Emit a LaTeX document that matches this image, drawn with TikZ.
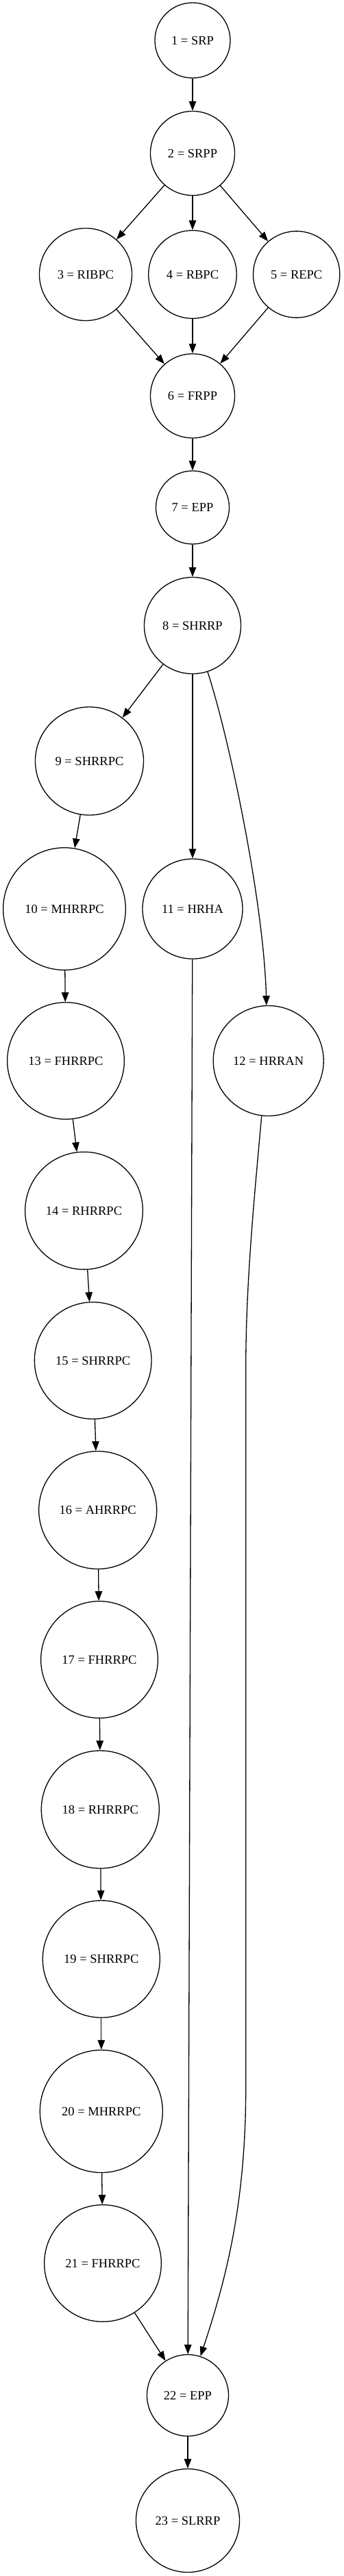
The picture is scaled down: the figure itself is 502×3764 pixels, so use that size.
\documentclass[tikz,border=0pt]{standalone}
\usepackage{fontspec}
\setmainfont{Liberation Serif}
\usetikzlibrary{arrows.meta}
\tikzset{
    phase/.style={circle,draw,line width=1.3pt,inner sep=0pt,minimum size=#1,
        font=\fontsize{18.5}{22}\selectfont},
    flow/.style={-{Triangle[length=14pt,width=10.5pt]},line width=1.3pt}
}

\begin{document}
\begin{tikzpicture}[x=1pt,y=1pt]
    \useasboundingbox (0,0) rectangle (502,-3764);

    \node[phase=110]   (n1)  at (281,-59)     {1 = SRP};
    \node[phase=123]   (n2)  at (281,-224)    {2 = SRPP};
    \node[phase=135]   (n3)  at (125,-401)    {3 = RIBPC};
    \node[phase=128.6] (n4)  at (281,-401)    {4 = RBPC};
    \node[phase=126.3] (n5)  at (432.7,-401)  {5 = REPC};
    \node[phase=123]   (n6)  at (281,-578.5)  {6 = FRPP};
    \node[phase=107]   (n7)  at (281,-741.5)  {7 = EPP};
    \node[phase=141]   (n8)  at (281,-914)    {8 = SHRRP};
    \node[phase=158]   (n9)  at (130.5,-1112) {9 = SHRRPC};
    \node[phase=178.7] (n10) at (94,-1328)    {10 = MHRRPC};
    \node[phase=146]   (n11) at (281,-1328)   {11 = HRHA};
    \node[phase=161]   (n12) at (391.7,-1550) {12 = HRRAN};
    \node[phase=170.7] (n13) at (96,-1550)    {13 = FHRRPC};
    \node[phase=171.7] (n14) at (122.5,-1769) {14 = RHRRPC};
    \node[phase=170.7] (n15) at (135.7,-1988) {15 = SHRRPC};
    \node[phase=172]   (n16) at (142.7,-2206.5) {16 = AHRRPC};
    \node[phase=170.7] (n17) at (145,-2425)   {17 = FHRRPC};
    \node[phase=172]   (n18) at (146.3,-2644) {18 = RHRRPC};
    \node[phase=171]   (n19) at (147.8,-2862.5) {19 = SHRRPC};
    \node[phase=179]   (n20) at (147.8,-3085) {20 = MHRRPC};
    \node[phase=170.7] (n21) at (150,-3307)   {21 = FHRRPC};
    \node[phase=119]   (n22) at (274,-3500)   {22 = EPP};
    \node[phase=151]   (n23) at (274,-3683)   {23 = SLRRP};

    \draw[flow] (n1) -- (n2);
    \draw[flow] (n2) -- (n3);
    \draw[flow] (n2) -- (n4);
    \draw[flow] (n2) -- (n5);
    \draw[flow] (n3) -- (n6);
    \draw[flow] (n4) -- (n6);
    \draw[flow] (n5) -- (n6);
    \draw[flow] (n6) -- (n7);
    \draw[flow] (n7) -- (n8);
    \draw[flow] (n8) -- (n9);
    \draw[flow] (n8) -- (n11);
    \draw[flow] (n8.-72) .. controls (335,-1080) and (385,-1320) .. (n12.92);
    \draw[flow] (n9) -- (n10);
    \draw[flow] (n10) -- (n13);
    \draw[flow] (n13) -- (n14);
    \draw[flow] (n14) -- (n15);
    \draw[flow] (n15) -- (n16);
    \draw[flow] (n16) -- (n17);
    \draw[flow] (n17) -- (n18);
    \draw[flow] (n18) -- (n19);
    \draw[flow] (n19) -- (n20);
    \draw[flow] (n20) -- (n21);
    \draw[flow] (n21) -- (n22);
    \draw[flow] (n11) -- (n22);
    \draw[flow] (n12.-97) .. controls (370,-1760) and (358.7,-1880) .. (358.7,-2000)
        -- (358.7,-3050) .. controls (358.7,-3220) and (330,-3330) .. (n22.72);
    \draw[flow] (n22) -- (n23);
\end{tikzpicture}
\end{document}
